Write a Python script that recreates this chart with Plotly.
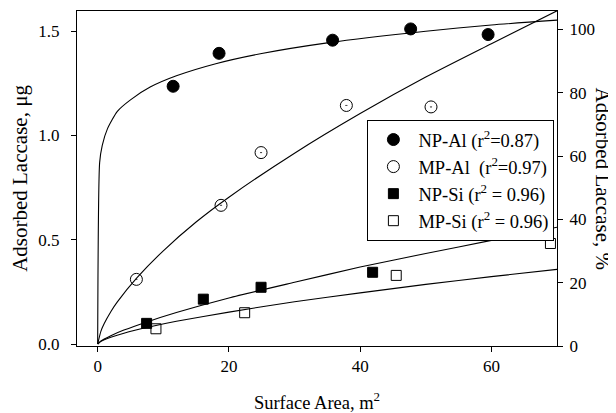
import plotly.graph_objects as go

# ---- measured data points (surface area m^2, adsorbed laccase ug) ----
np_al_x = [11.5, 18.5, 35.8, 47.7, 59.5]
np_al_y = [1.236, 1.394, 1.457, 1.511, 1.484]

mp_al_x = [5.9, 18.8, 24.9, 37.9, 50.8]
mp_al_y = [0.31, 0.665, 0.918, 1.144, 1.137]

np_si_x = [7.46, 16.1, 24.9, 41.9]
np_si_y = [0.099, 0.215, 0.272, 0.344]

mp_si_x = [8.88, 22.4, 45.5, 69.0]
mp_si_y = [0.073, 0.15, 0.329, 0.482]

np_al_fit_x = [0, 0.3, 0.7, 1.5, 3, 5, 8, 12, 18, 25, 35, 50, 60, 70]
np_al_fit_y = [0, 0.87, 0.953, 1.033, 1.116, 1.171, 1.232, 1.286, 1.344, 1.393, 1.444, 1.50, 1.53, 1.553]

mp_al_fit_x = [0, 0.5, 1, 2, 3, 6, 10, 15, 20, 30, 40, 50, 60, 70]
mp_al_fit_y = [0, 0.062, 0.098, 0.155, 0.202, 0.318, 0.447, 0.585, 0.704, 0.915, 1.105, 1.28, 1.44, 1.598]

np_si_fit_x = [0, 0.5, 1, 2, 4, 7.5, 12, 20, 30, 40, 50, 60, 70]
np_si_fit_y = [0, 0.0141, 0.0236, 0.0397, 0.0666, 0.106, 0.151, 0.221, 0.296, 0.369, 0.434, 0.497, 0.560]

mp_si_fit_x = [0, 0.5, 1, 2, 4, 8, 12, 20, 30, 40, 50, 60, 70]
mp_si_fit_y = [0, 0.0127, 0.0203, 0.0325, 0.052, 0.0826, 0.109, 0.153, 0.203, 0.245, 0.286, 0.323, 0.358]

x_ticks = [0, 20, 40, 60]
y_ticks = [0.0, 0.5, 1.0, 1.5]
y_tick_labels = ["0.0", "0.5", "1.0", "1.5"]
y2_ticks = [0, 20, 40, 60, 80, 100]

FONT = "Liberation Serif, Times New Roman, serif"
BLACK = "black"

fig = go.Figure()

line_style = dict(color=BLACK, width=1.1, shape="spline", smoothing=0.6)
for fx, fy in [(np_al_fit_x, np_al_fit_y), (mp_al_fit_x, mp_al_fit_y),
               (np_si_fit_x, np_si_fit_y), (mp_si_fit_x, mp_si_fit_y)]:
    fig.add_trace(go.Scatter(x=fx, y=fy, mode="lines", line=line_style,
                             showlegend=False, hoverinfo="skip"))

# name, x, y, data symbol, legend symbol, size
series = [
    ("NP-Al (r<sup>2</sup>=0.87)", np_al_x, np_al_y, "circle", "circle", 12),
    ("MP-Al  (r<sup>2</sup>=0.97)", mp_al_x, mp_al_y, "circle-open-dot", "circle-open", 12),
    ("NP-Si (r<sup>2</sup> = 0.96)", np_si_x, np_si_y, "square", "square", 10),
    ("MP-Si (r<sup>2</sup> = 0.96)", mp_si_x, mp_si_y, "square-open", "square-open", 10),
]
for i, (name, sx, sy, sym, lsym, size) in enumerate(series):
    grp = "g%d" % i
    fig.add_trace(go.Scatter(
        x=sx, y=sy, mode="markers", name=name, legendgroup=grp,
        showlegend=False,
        marker=dict(symbol=sym, size=size, color=BLACK,
                    line=dict(color=BLACK, width=1)),
    ))
    fig.add_trace(go.Scatter(
        x=[None], y=[None], mode="markers", name=name, legendgroup=grp,
        marker=dict(symbol=lsym, size=size, color=BLACK,
                    line=dict(color=BLACK, width=1)),
        hoverinfo="skip",
    ))

# invisible trace to activate right axis
fig.add_trace(go.Scatter(x=[None], y=[None], yaxis="y2", showlegend=False,
                         hoverinfo="skip"))

# the page body adds an 8px offset, so margins are reduced by 8px on left/top
fig.update_layout(
    width=616, height=413,
    margin=dict(l=69, r=67, t=3, b=75),
    paper_bgcolor="white", plot_bgcolor="white",
    font=dict(family=FONT, size=17, color=BLACK),
    xaxis=dict(
        range=[-3.15, 70.0], tickvals=x_ticks, ticks="outside", ticklen=5,
        tickcolor=BLACK, showline=True, linecolor=BLACK, linewidth=1,
        mirror=True, showgrid=False, zeroline=False,
        title=dict(text="Surface Area, m<sup>2</sup>", font=dict(size=18.5), standoff=20),
        tickfont=dict(size=17),
    ),
    yaxis=dict(
        range=[-0.0096, 1.597], tickvals=y_ticks, ticktext=y_tick_labels,
        ticks="outside", ticklen=5, tickcolor=BLACK, showline=True,
        linecolor=BLACK, linewidth=1, showgrid=False, zeroline=False,
        ticklabelstandoff=8,
        title=dict(text="Adsorbed Laccase, μg", font=dict(size=21), standoff=10),
        tickfont=dict(size=17),
    ),
    yaxis2=dict(
        overlaying="y", side="right", range=[0, 105.8], tickvals=y2_ticks,
        ticks="outside", ticklen=5, tickcolor=BLACK, showline=True,
        linecolor=BLACK, linewidth=1, showgrid=False, zeroline=False,
        ticklabelstandoff=3,
        tickfont=dict(size=17),
    ),
    annotations=[dict(
        text="Adsorbed Laccase, %", xref="paper", yref="paper",
        x=1, y=0.5, xshift=46, xanchor="center", yanchor="middle",
        textangle=90, showarrow=False, font=dict(family=FONT, size=21),
    )],
    legend=dict(
        x=0.605, y=0.6746, xanchor="left", yanchor="top",
        bordercolor=BLACK, borderwidth=1, bgcolor="white",
        font=dict(family=FONT, size=18.5), itemwidth=40,
        tracegroupgap=0,
    ),
    showlegend=True,
)

fig.write_html("out.html")
